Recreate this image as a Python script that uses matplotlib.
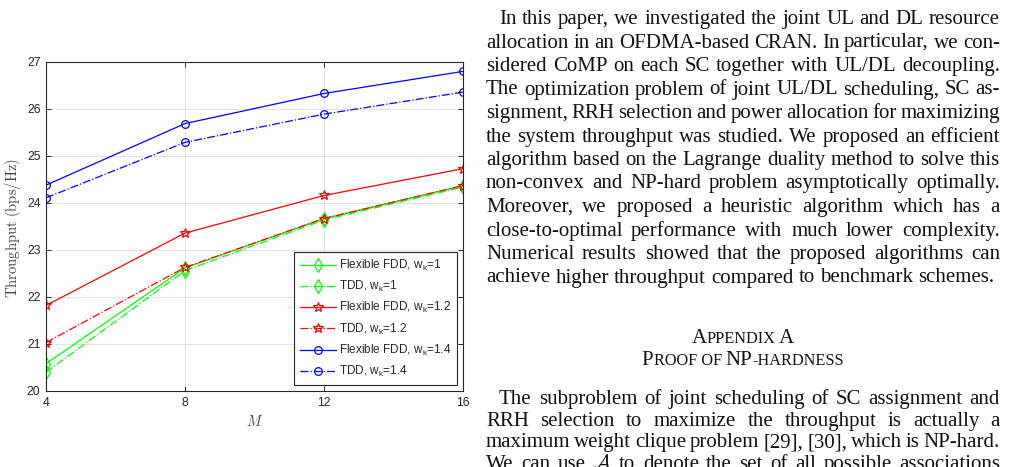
import matplotlib
matplotlib.use('Agg')
import matplotlib.pyplot as plt

# ---- chart data ----
M = [4, 8, 12, 16]
ffdd_w1 = [20.58, 22.62, 23.67, 24.37]
tdd_w1 = [20.40, 22.56, 23.64, 24.34]
ffdd_w12 = [21.82, 23.36, 24.16, 24.73]
tdd_w12 = [21.03, 22.63, 23.67, 24.37]
ffdd_w14 = [24.38, 25.69, 26.33, 26.80]
tdd_w14 = [24.11, 25.29, 25.89, 26.36]

legend_labels = [r'Flexible FDD, w$_\mathrm{k}$=1', r'TDD, w$_\mathrm{k}$=1',
                 r'Flexible FDD, w$_\mathrm{k}$=1.2', r'TDD, w$_\mathrm{k}$=1.2',
                 r'Flexible FDD, w$_\mathrm{k}$=1.4', r'TDD, w$_\mathrm{k}$=1.4']

x_ticks = [4, 8, 12, 16]
y_ticks = [20, 21, 22, 23, 24, 25, 26, 27]

# ---- page text next to the figure ----
para1 = [
    "In this paper, we investigated the joint UL and DL resource",
    "allocation in an OFDMA-based CRAN. In particular, we con-",
    "sidered CoMP on each SC together with UL/DL decoupling.",
    "The optimization problem of joint UL/DL scheduling, SC as-",
    "signment, RRH selection and power allocation for maximizing",
    "the system throughput was studied. We proposed an efficient",
    "algorithm based on the Lagrange duality method to solve this",
    "non-convex and NP-hard problem asymptotically optimally.",
    "Moreover, we proposed a heuristic algorithm which has a",
    "close-to-optimal performance with much lower complexity.",
    "Numerical results showed that the proposed algorithms can",
    "achieve higher throughput compared to benchmark schemes.",
]
para2 = [
    "The subproblem of joint scheduling of SC assignment and",
    "RRH selection to maximize the throughput is actually a",
    "maximum weight clique problem [29], [30], which is NP-hard.",
    r"We can use $\mathcal{A}$ to denote the set of all possible associations",
]
heading1 = [("A", 1.0), ("PPENDIX", 0.78), (" A", 1.0)]
heading2 = [("P", 1.0), ("ROOF OF ", 0.78), ("NP", 1.0), ("-HARDNESS", 0.78)]

W, H = 1011, 467
plt.rcParams['font.family'] = ['Liberation Sans', 'DejaVu Sans']
plt.rcParams['mathtext.fontset'] = 'custom'
plt.rcParams['mathtext.rm'] = 'Liberation Sans'
plt.rcParams['mathtext.it'] = 'Liberation Sans:italic'

dark = '#262626'
fig = plt.figure(figsize=(W / 100, H / 100), dpi=100)
ax = fig.add_axes([46 / W, 1 - 391 / H, 417 / W, 329 / H])

series = [
    (ffdd_w1, '#00ff00', '-', 'd', 7.0),
    (tdd_w1, '#00ff00', '-.', 'd', 7.0),
    (ffdd_w12, '#ff0000', '-', '*', 7.5),
    (tdd_w12, '#ff0000', '-.', '*', 7.5),
    (ffdd_w14, '#0000ff', '-', 'o', 5.5),
    (tdd_w14, '#0000ff', '-.', 'o', 5.5),
]
for (vals, col, ls, mk, ms), lab in zip(series, legend_labels):
    ax.plot(M, vals, color=col, linestyle=ls, marker=mk, markersize=ms,
            markerfacecolor='none', markeredgecolor=col, markeredgewidth=0.9,
            linewidth=0.9, label=lab)

ax.set_xlim(4, 16)
ax.set_ylim(20, 27)
ax.set_xticks(x_ticks)
ax.set_yticks(y_ticks)
ax.grid(True, color='#e3e3e3', linewidth=0.7)
ax.set_axisbelow(True)
ax.tick_params(direction='in', top=True, right=True, length=3.5, width=0.7,
               color=dark, labelcolor=dark, labelsize=8.8, pad=4)
for sp in ax.spines.values():
    sp.set_color(dark)
    sp.set_linewidth(0.8)

leg = ax.legend(loc='lower right', bbox_to_anchor=(0.9856, 0.018),
                borderaxespad=0, fontsize=8.5, handlelength=3.0,
                handletextpad=0.25, labelspacing=0.52, borderpad=0.5,
                fancybox=False, framealpha=1, edgecolor=dark)
leg.get_frame().set_linewidth(0.8)
for t in leg.get_texts():
    t.set_color(dark)

fig.text(13 / W, 1 - 228 / H, r'$\mathrm{Throughput\ (bps/Hz)}$', rotation=90,
         ha='center', va='center', fontsize=10.5, color='#444444',
         math_fontfamily='cm')
fig.text(255 / W, 1 - 421 / H, r'$M$', ha='center', va='center', fontsize=10.5,
         color='#444444', math_fontfamily='cm')

# ---- justified body text ----
fig.canvas.draw()
rend = fig.canvas.get_renderer()
body_size = 15.0
serif = 'Liberation Serif'


def measure(s, size):
    t = fig.text(0, 0, s, fontsize=size, family=serif, math_fontfamily='cm')
    w = t.get_window_extent(rend).width
    t.remove()
    return w


def put_line(line, x0, x1, base, justify=True):
    words = line.split(' ')
    widths = [measure(w, body_size) for w in words]
    if justify and len(words) > 1:
        gap = (x1 - x0 - sum(widths)) / (len(words) - 1)
    else:
        gap = 0.25 * body_size * 100 / 72
    x = x0
    for w, wd in zip(words, widths):
        fig.text(x / W, 1 - base / H, w, fontsize=body_size, family=serif,
                 math_fontfamily='cm', va='baseline', ha='left', color='#111111')
        x += wd + gap


def put_smallcaps(parts, xc, base):
    widths = [measure(s, body_size * f) for s, f in parts]
    x = xc - sum(widths) / 2
    for (s, f), wd in zip(parts, widths):
        fig.text(x / W, 1 - base / H, s, fontsize=body_size * f, family=serif,
                 va='baseline', ha='left', color='#111111')
        x += wd


left, right, indent = 486, 1000, 13
lead = 23.5
for i, line in enumerate(para1):
    x0 = left + indent if i == 0 else left
    put_line(line, x0, right, 24 + lead * i, justify=(i < len(para1) - 1))

put_smallcaps(heading1, (left + right) / 2, 343)
put_smallcaps(heading2, (left + right) / 2, 365)

for i, line in enumerate(para2):
    x0 = left + indent if i == 0 else left
    put_line(line, x0, right, 404 + lead * i * 0.92)

fig.savefig('out.png', dpi=100)
